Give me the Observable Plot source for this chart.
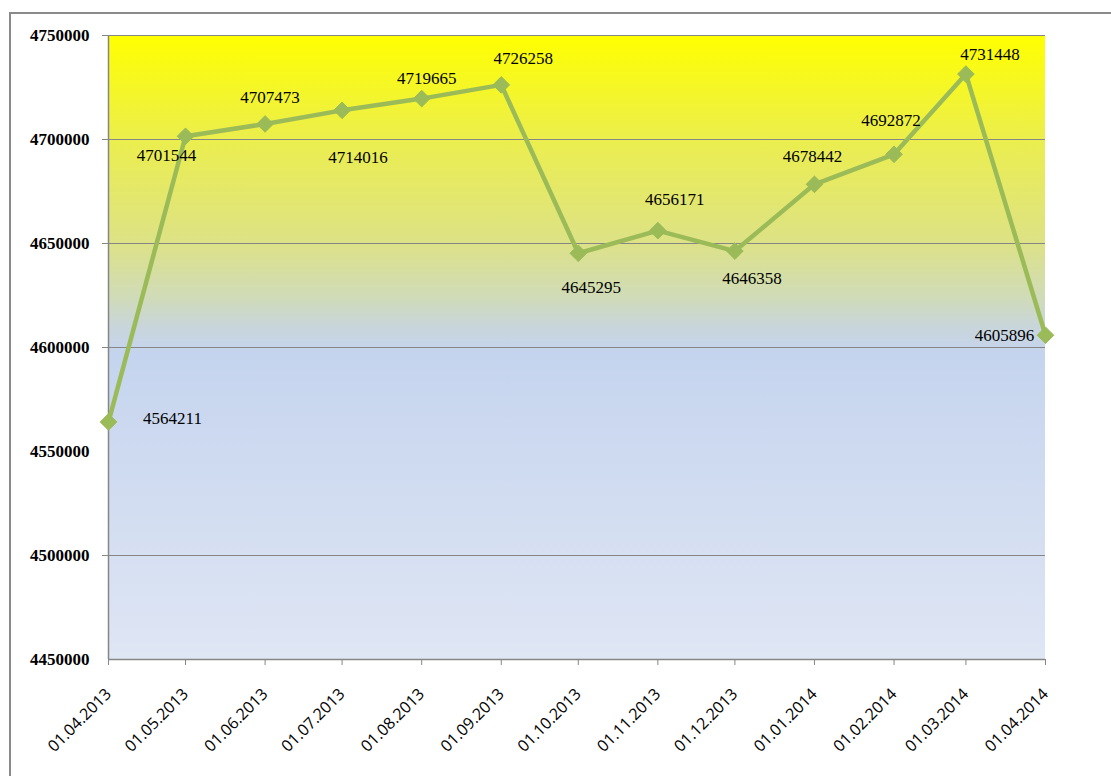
<!DOCTYPE html>
<html>
<head>
<meta charset="utf-8">
<script src="https://cdn.jsdelivr.net/npm/d3@7"></script>
<script src="https://cdn.jsdelivr.net/npm/@observablehq/plot@0.6"></script>
<style>
  html, body { margin: 0; padding: 0; background: #fff; overflow: hidden; width: 1111px; height: 776px; }
  #border { position: absolute; left: 9px; top: 12px; width: 1300px; height: 1000px; border-left: 2px solid #8a8a8a; border-top: 2px solid #8a8a8a; }
  #chart { position: absolute; left: 0; top: 0; }
</style>
</head>
<body>
<div id="border"></div>
<div id="chart"></div>
<script>
// Data
const dates = ["2013-04-01","2013-05-01","2013-06-01","2013-07-01","2013-08-01","2013-09-01","2013-10-01","2013-11-01","2013-12-01","2014-01-01","2014-02-01","2014-03-01","2014-04-01"];
const values = [4564211,4701544,4707473,4714016,4719665,4726258,4645295,4656171,4646358,4678442,4692872,4731448,4605896];
const yTickLabels = [4450000,4500000,4550000,4600000,4650000,4700000,4750000];
const yGridTicks = [4500000,4600000,4650000,4700000,4750000];

// Label offsets (style: pixel offsets of each value label from its point)
const labelDx = [64,-19,5,16,5,22,13,17,17,-2,-3,24,-41];
const labelDy = [-3,19,-26,47,-20,-26,34,-31,27,-28,-34,-20,0];

const parse = d3.utcParse("%Y-%m-%d");
const data = dates.map((d, i) => ({date: parse(d), value: values[i]}));
const tickDates = dates.map(parse);

const lineColor = "#9bbb59";

function background(index, scales, values, dims) {
  const g = d3.create("svg:g");
  const defs = g.append("defs");
  const grad = defs.append("linearGradient").attr("id", "bg").attr("x1", 0).attr("y1", 0).attr("x2", 0).attr("y2", 1);
  [[0, "#ffff00"], [0.17, "#ebee4e"], [0.33, "#dde285"], [0.42, "#d0dbb8"], [0.47, "#c8d5dc"], [0.51, "#c5d4ee"], [1, "#dfe6f4"]]
    .forEach(([o, c]) => grad.append("stop").attr("offset", o).attr("stop-color", c));
  g.append("rect")
    .attr("x", dims.marginLeft)
    .attr("y", dims.marginTop)
    .attr("width", dims.width - dims.marginLeft - dims.marginRight)
    .attr("height", dims.height - dims.marginTop - dims.marginBottom)
    .attr("fill", "url(#bg)");
  return g.node();
}

const labelMarks = data.map((d, i) =>
  Plot.text([d], {x: "date", y: "value", text: v => String(v.value), dx: labelDx[i], dy: labelDy[i], fontSize: 17, fontFamily: "Liberation Serif", fill: "#000", letterSpacing: "1px"})
);

const chart = Plot.plot({
  width: 1111,
  height: 776,
  marginLeft: 108,
  marginRight: 66,
  marginTop: 35,
  marginBottom: 117,
  style: {background: "transparent", overflow: "visible"},
  x: {type: "utc", domain: [tickDates[0], tickDates[tickDates.length - 1]], label: null},
  y: {domain: [4450000, 4750000], label: null},
  marks: [
    background,
    Plot.gridY(yGridTicks, {stroke: "#868686", strokeOpacity: 1, strokeWidth: 1}),
    Plot.axisY(yGridTicks, {tickSize: 6, tickFormat: () => "", stroke: "#868686", label: null}),
    Plot.axisY(yTickLabels, {tickSize: 0, tickPadding: 19, tickFormat: d => String(d), fontSize: 17, fontWeight: "bold", fontFamily: "Liberation Serif", fill: "#000", letterSpacing: "1px", label: null}),
    Plot.axisX(tickDates, {
      tickSize: 6, stroke: "#868686",
      tickFormat: d3.utcFormat("%d.%m.%Y"),
      tickRotate: -45, tickPadding: 26,
      fontSize: 16, fontFamily: "Open Sans", fill: "#000", label: null
    }),
    Plot.ruleX([tickDates[0]], {stroke: "#868686", strokeWidth: 1.5}),
    Plot.ruleY([4450000], {stroke: "#868686", strokeWidth: 1.5}),
    Plot.line(data, {x: "date", y: "value", stroke: lineColor, strokeWidth: 4.5, strokeLinejoin: "round"}),
    Plot.dot(data, {x: "date", y: "value", symbol: "diamond2", r: 7.5, fill: lineColor, stroke: lineColor, strokeWidth: 1}),
    ...labelMarks
  ]
});
document.getElementById("chart").appendChild(chart);
</script>
</body>
</html>
